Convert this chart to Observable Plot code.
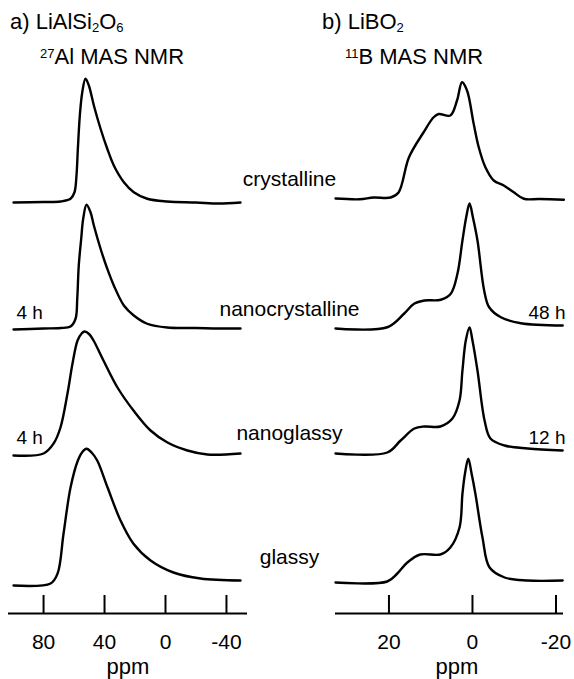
<!DOCTYPE html>
<html>
<head>
<meta charset="utf-8">
<script src="https://cdn.jsdelivr.net/npm/d3@7"></script>
<script src="https://cdn.jsdelivr.net/npm/@observablehq/plot@0.6"></script>
<style>
  body { margin: 0; background: #fff; }
  #fig { position: relative; width: 574px; height: 679px; font-family: "Liberation Sans", Arial, sans-serif; color: #000; }
  #fig .panel { position: absolute; top: 0; }
  #fig .title { position: absolute; font-size: 22px; line-height: 22px; white-space: nowrap; }
  #fig .title sub, #fig .title sup { vertical-align: baseline; position: relative; line-height: 0; font-size: 13px; }
  #fig .title sub { top: 3px; }
  #fig .title sup { top: -6px; }
</style>
</head>
<body>
<div id="fig">
  <div class="panel" id="panelA" style="left:0"></div>
  <div class="panel" id="panelB" style="left:287px"></div>
  <div class="title" style="left:10px;top:11px">a) LiAlSi<sub>2</sub>O<sub>6</sub></div>
  <div class="title" style="left:40px;top:46px"><sup>27</sup>Al MAS NMR</div>
  <div class="title" style="left:322px;top:11px">b) LiBO<sub>2</sub></div>
  <div class="title" style="left:345px;top:46px"><sup>11</sup>B MAS NMR</div>
</div>
<script>
// 27Al spectra (ppm, intensity with apex ~100)
const alCrystPpm = [99.7, 80, 68.9, 62.3, 59.7, 58.4, 57.5, 56.2, 54.6, 52.5, 50.3, 47, 42.6, 38.2, 33.9, 27.3, 20.8, 12, -1.1, -20, -35, -49.2]
const alCrystI   = [-0.8, -0.4, 0, 2.2, 7.4, 20.8, 42, 68.8, 87.4, 98.2, 92.8, 76.8, 58.2, 42.2, 28.8, 15.4, 7.4, 2.2, 0, -0.8, -1.6, -0.8]

const alNanoPpm = [99.7, 80, 68.9, 62.3, 59, 57.9, 56.9, 55.3, 54, 51.8, 49.2, 47, 42.6, 38.2, 33.9, 27.3, 20.8, 12, -1.1, -20, -35, -49.2]
const alNanoI   = [-0.8, 0, 0.4, 1.6, 7.8, 23.8, 50.4, 71.8, 87.8, 99, 93, 82.4, 63.8, 47.8, 34.4, 18.4, 10.4, 3.8, 0.8, 0.4, 0, 0]

const alNgPpm = [99.7, 80, 73.4, 68.9, 64.3, 61, 57.7, 55, 53.1, 50, 47.2, 40.7, 31.5, 21, 9.8, -1.3, -14.4, -27.5, -49.2]
const alNgI   = [0, 1.6, 9.6, 22.4, 49.6, 73.6, 92, 97.6, 99.2, 97, 92, 76, 54.4, 36, 20, 10.4, 4, 0.8, 1.6]

const alGlassPpm = [99.7, 75.4, 70.8, 66.9, 62.3, 57.5, 54.8, 51.8, 48.5, 44.8, 38, 29.5, 21, 9.8, -5.2, -23, -49.2]
const alGlassI   = [-2.4, -0.8, 7.2, 39, 76, 97.6, 104, 107, 104, 97.6, 76, 49.6, 31, 17.6, 8, 3.2, 1.6]

// 11B spectra
const bCrystPpm = [32.8, 27, 23.7, 19.6, 17.7, 15.2, 11.7, 9.3, 8.1, 5.3, 3.7, 2.5, 1.3, -0.3, -1.5, -3.1, -5.1, -7.5, -9.9, -12.3, -16, -21.9]
const bCrystI   = [2.4, 1.8, 3.2, 3.2, 7.2, 35.4, 55.4, 67.4, 70, 68.8, 80.8, 95.4, 88.8, 62, 43.4, 27.4, 16.8, 12.8, 7.4, 2.2, 2, 1.4]

const b48Ppm = [32.8, 20.4, 16.4, 14, 11.5, 7.6, 5.2, 3.6, 2.4, 1.5, 0.7, -0.1, -1.2, -2.8, -4, -6.8, -11.6, -21.6]
const b48I   = [0, 1, 11.8, 19.8, 22.4, 23, 27.8, 43.8, 70.4, 89, 100, 89, 70.4, 30.4, 17, 9, 4.2, 2.4]

const b12Ppm = [32.8, 20.4, 17.2, 13.9, 11.5, 7.7, 4.8, 3.1, 2.4, 1.6, 0.7, 0, -1.2, -2.9, -4.3, -7.7, -13.2, -21.6]
const b12I   = [1.6, 2.4, 12, 21.6, 23.2, 23.2, 29.6, 44, 68, 92, 102.4, 92, 68, 28, 13.6, 8, 5.6, 4]

const bGlassPpm = [32.8, 20.4, 18, 15.6, 12.5, 7.7, 5.3, 3.1, 2.4, 1.8, 1, 0.2, -0.7, -2.4, -4.1, -7.7, -13.2, -21.6]
const bGlassI   = [0, 0.8, 7.2, 16, 22.4, 22.4, 28, 44, 71, 87, 99, 87, 71, 36, 12, 4, 1.6, 1.6]

const samples = ['crystalline', 'nanocrystalline', 'nanoglassy', 'glassy']
const alTimes = ['', '4 h', '4 h', '']
const bTimes = ['', '48 h', '12 h', '']
const alTicks = [80, 40, 0, -40]
const bTicks = [20, 0, -20]

// stacking: 1 y unit = 1.25 px, rows from top to bottom
const base = 24.8, gap = 101.6
const offset = i => base + (3 - i) * gap
const labelLift = [12.8, 10.4, 12.8, 15.2]
const timeLift = [0, 8, 9.6, 0]

const font = '"Liberation Sans", Arial, sans-serif'

function rows(spectra) {
  return spectra.flatMap(([ppm, I], k) => ppm.map((p, j) => ({k, ppm: p, y: I[j] + offset(k)})))
}

function panel({data, domain, ticks, times, mLeft, mRight, timeAnchor, timeDx, ppmDx, withSamples}) {
  return Plot.plot({
    width: 287,
    height: 679,
    marginLeft: mLeft,
    marginRight: mRight,
    marginTop: 13,
    marginBottom: 66,
    x: {domain, axis: null},
    y: {domain: [0, 480], axis: null},
    style: {fontFamily: font, background: 'transparent', overflow: 'visible', color: 'black'},
    marks: [
      Plot.ruleY([0], {strokeWidth: 2}),
      Plot.ruleX(ticks, {x: d => d, y1: 0, y2: 14.4, strokeWidth: 2}),
      Plot.text(ticks, {x: d => d, text: d => String(d), frameAnchor: 'bottom', lineAnchor: 'bottom', dy: 35, fontSize: 21}),
      Plot.text(['ppm'], {text: d => d, frameAnchor: 'bottom', lineAnchor: 'bottom', dy: 60, dx: ppmDx, fontSize: 22}),
      Plot.line(data, {x: 'ppm', y: 'y', z: 'k', curve: 'catmull-rom', strokeWidth: 2.4, strokeLinejoin: 'round', strokeLinecap: 'round'}),
      Plot.text(times, {filter: d => d, text: d => d, y: (d, i) => offset(i) + timeLift[i], frameAnchor: timeAnchor, textAnchor: timeAnchor === 'left' ? 'start' : 'end', dx: timeDx, lineAnchor: 'bottom', fontSize: 19}),
      withSamples ? Plot.text(samples, {text: d => d, y: (d, i) => offset(i) + labelLift[i], frameAnchor: 'right', textAnchor: 'middle', dx: 42, lineAnchor: 'bottom', fontSize: 21}) : null,
    ],
  })
}

const chartA = panel({
  data: rows([[alCrystPpm, alCrystI], [alNanoPpm, alNanoI], [alNgPpm, alNgI], [alGlassPpm, alGlassI]]),
  domain: [103, -53.8], ticks: alTicks, times: alTimes,
  mLeft: 8, mRight: 40, timeAnchor: 'left', timeDx: 8, ppmDx: 0, withSamples: true,
})

const chartB = panel({
  data: rows([[bCrystPpm, bCrystI], [b48Ppm, b48I], [b12Ppm, b12I], [bGlassPpm, bGlassI]]),
  domain: [32.8, -21.8], ticks: bTicks, times: bTimes,
  mLeft: 48, mRight: 11, timeAnchor: 'right', timeDx: 2, ppmDx: 7.5, withSamples: false,
})

d3.select('#panelA').append(() => chartA)
d3.select('#panelB').append(() => chartB)
</script>
</body>
</html>
